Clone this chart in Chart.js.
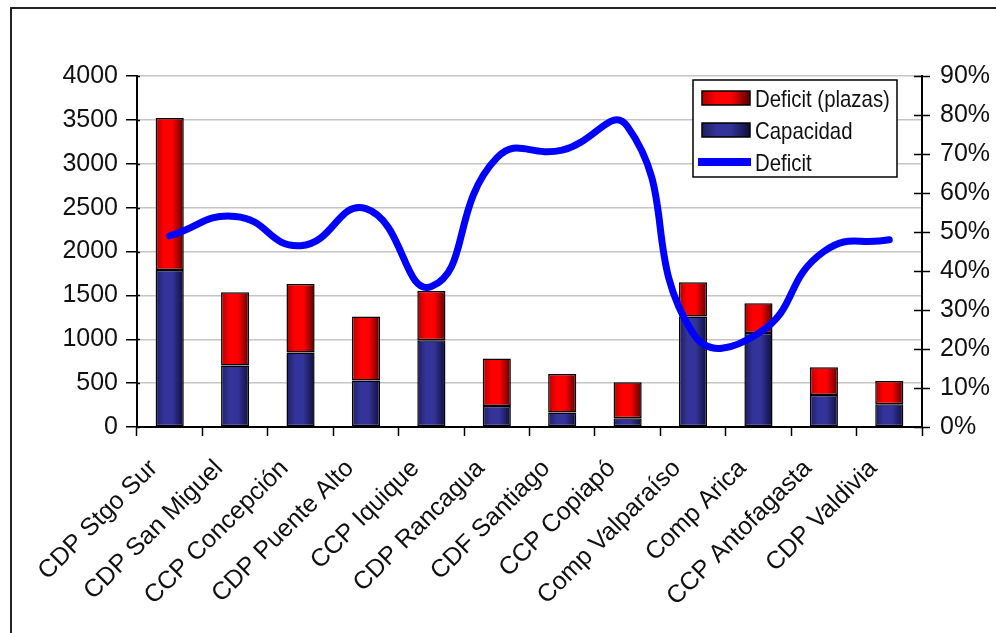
<!DOCTYPE html>
<html>
<head>
<meta charset="utf-8">
<script src="https://cdn.jsdelivr.net/npm/chart.js@4/dist/chart.umd.min.js"></script>
<style>
  html, body { margin: 0; padding: 0; background: #fff; }
  #wrap { width: 996px; height: 633px; }
</style>
</head>
<body>
<div id="wrap"><canvas id="c" width="996" height="633"></canvas></div>
<script>
// Establishments (categories)
const categories = [
  'CDP Stgo Sur', 'CDP San Miguel', 'CCP Concepción', 'CDP Puente Alto',
  'CCP Iquique', 'CDP Rancagua', 'CDF Santiago', 'CCP Copiapó',
  'Comp Valparaíso', 'Comp Arica', 'CCP Antofagasta', 'CDP Valdivia'
];
// Capacity (places)
const capacidad = [1790, 700, 850, 530, 990, 240, 165, 100, 1260, 1070, 365, 260];
// Missing places, stacked on top of capacity
const deficitPlazas = [1730, 835, 780, 730, 560, 540, 440, 410, 390, 340, 315, 265];
// Deficit as a percentage (right axis)
const deficitPct = [49, 54, 46.5, 56, 36, 69, 71, 77, 24, 24, 45, 48];
// Axis ticks
const leftTicks = [0, 500, 1000, 1500, 2000, 2500, 3000, 3500, 4000];
const rightTicks = [0, 10, 20, 30, 40, 50, 60, 70, 80, 90];

const FONT = '"Liberation Sans", Arial, sans-serif';
const BAR_FRAC = 0.43;

// Horizontal shaded fill for each bar
function shadedFill(edgeL, mid, edgeR) {
  return (ctx) => {
    const chart = ctx.chart;
    const xs = chart.scales && chart.scales.x;
    if (!xs || ctx.dataIndex === undefined || !isFinite(xs.width) || xs.width <= 0) return mid;
    const cx = xs.getPixelForValue(ctx.dataIndex);
    const w = (xs.width / categories.length) * BAR_FRAC;
    const g = chart.ctx.createLinearGradient(cx - w / 2, 0, cx + w / 2, 0);
    g.addColorStop(0, edgeL);
    g.addColorStop(0.3, mid);
    g.addColorStop(0.6, mid);
    g.addColorStop(1, edgeR);
    return g;
  };
}

// Background and outer frame
const framePlugin = {
  id: 'frame',
  beforeDraw(chart) {
    const c = chart.ctx;
    c.save();
    c.fillStyle = '#fff';
    c.fillRect(0, 0, chart.width, chart.height);
    c.strokeStyle = '#222';
    c.lineWidth = 2;
    c.beginPath();
    c.moveTo(11, chart.height);
    c.lineTo(11, 8);
    c.lineTo(chart.width, 8);
    c.stroke();
    c.restore();
  }
};

// Short inner parts of the value-axis tick marks (ticks cross the axis lines)
const crossTicksPlugin = {
  id: 'crossTicks',
  afterDraw(chart) {
    const c = chart.ctx;
    const yl = chart.scales.y, yr = chart.scales.y1;
    const area = chart.chartArea;
    c.save();
    c.strokeStyle = '#000';
    c.lineWidth = 1.5;
    c.beginPath();
    yl.ticks.forEach(t => {
      const py = Math.round(yl.getPixelForValue(t.value)) + 0.5;
      c.moveTo(area.left, py);
      c.lineTo(area.left + 3, py);
    });
    yr.ticks.forEach(t => {
      const py = Math.round(yr.getPixelForValue(t.value)) + 0.5;
      c.moveTo(area.right - 8, py);
      c.lineTo(area.right, py);
    });
    c.stroke();
    c.restore();
  }
};

// Boxed legend inside the plot
const legendBoxPlugin = {
  id: 'legendBox',
  afterDraw(chart) {
    const c = chart.ctx;
    const x0 = 693, y0 = 80, w = 204, h = 97;
    c.save();
    c.fillStyle = '#fff';
    c.fillRect(x0, y0, w, h);
    c.strokeStyle = '#000';
    c.lineWidth = 1.5;
    c.strokeRect(x0, y0, w, h);

    const ds = chart.data.datasets;
    const rows = [
      { ds: ds[1], y: 98 },
      { ds: ds[0], y: 130 },
      { ds: ds[2], y: 162 }
    ];
    rows.forEach(r => {
      if (r.ds.type === 'line') {
        c.strokeStyle = '#0000ff';
        c.lineWidth = 8;
        c.beginPath();
        c.moveTo(698, r.y);
        c.lineTo(751, r.y);
        c.stroke();
      } else {
        const g = c.createLinearGradient(702, 0, 750, 0);
        const cols = r.ds.legendColors;
        g.addColorStop(0, cols[0]);
        g.addColorStop(0.3, cols[1]);
        g.addColorStop(0.6, cols[1]);
        g.addColorStop(1, cols[2]);
        c.fillStyle = g;
        c.fillRect(702, r.y - 7, 48, 14);
        c.strokeStyle = '#000';
        c.lineWidth = 1.5;
        c.strokeRect(702, r.y - 7, 48, 14);
      }
      c.save();
      c.translate(755, r.y + 9);
      c.scale(0.85, 1);
      c.fillStyle = '#111';
      c.font = '24px ' + FONT;
      c.textBaseline = 'alphabetic';
      c.fillText(r.ds.label, 0, 0);
      c.restore();
    });
    c.restore();
  }
};

const redCols = ['#b00000', '#ff0000', '#5a0000'];
const navyCols = ['#1e1e60', '#333399', '#0e0e38'];

new Chart(document.getElementById('c'), {
  type: 'bar',
  data: {
    labels: categories,
    datasets: [
      {
        type: 'bar',
        label: 'Capacidad',
        data: capacidad,
        yAxisID: 'y',
        backgroundColor: shadedFill(...navyCols),
        legendColors: navyCols,
        borderColor: '#000',
        borderWidth: 1.5,
        borderSkipped: false,
        categoryPercentage: 1,
        barPercentage: BAR_FRAC,
        order: 2
      },
      {
        type: 'bar',
        label: 'Deficit (plazas)',
        data: deficitPlazas,
        yAxisID: 'y',
        backgroundColor: shadedFill(...redCols),
        legendColors: redCols,
        borderColor: '#000',
        borderWidth: 1.5,
        borderSkipped: false,
        categoryPercentage: 1,
        barPercentage: BAR_FRAC,
        order: 2
      },
      {
        type: 'line',
        label: 'Deficit',
        data: deficitPct,
        yAxisID: 'y1',
        borderColor: '#0000ff',
        borderWidth: 7,
        borderCapStyle: 'round',
        borderJoinStyle: 'round',
        pointRadius: 0,
        tension: 0.5,
        fill: false,
        order: 0
      }
    ]
  },
  options: {
    responsive: false,
    animation: false,
    devicePixelRatio: 1,
    layout: { padding: { left: 0, right: 0, top: 76, bottom: 0 } },
    plugins: {
      legend: { display: false },
      tooltip: { enabled: false }
    },
    scales: {
      x: {
        stacked: true,
        offset: true,
        grid: {
          display: true,
          offset: true,
          drawOnChartArea: false,
          drawTicks: true,
          tickLength: 9,
          tickColor: '#000',
          tickWidth: 1.5
        },
        border: { display: true, color: '#000', width: 2 },
        ticks: {
          autoSkip: false,
          minRotation: 45,
          maxRotation: 45,
          padding: 18,
          labelOffset: -16,
          color: '#111',
          font: { family: FONT, size: 25 }
        },
        afterFit(scale) { scale.height = 206; }
      },
      y: {
        stacked: true,
        position: 'left',
        min: leftTicks[0],
        max: leftTicks[leftTicks.length - 1],
        afterBuildTicks(scale) { scale.ticks = leftTicks.map(v => ({ value: v })); },
        grid: {
          color: '#c4c4c4',
          lineWidth: 1.5,
          tickColor: '#000',
          tickLength: 11,
          tickWidth: 1.5
        },
        border: { display: true, color: '#000', width: 2 },
        ticks: {
          padding: 8,
          color: '#111',
          font: { family: FONT, size: 25 },
          callback: (v) => String(v)
        },
        afterFit(scale) { scale.width = 137; }
      },
      y1: {
        position: 'right',
        min: rightTicks[0],
        max: rightTicks[rightTicks.length - 1],
        afterBuildTicks(scale) { scale.ticks = rightTicks.map(v => ({ value: v })); },
        grid: {
          drawOnChartArea: false,
          tickColor: '#000',
          tickLength: 8,
          tickWidth: 1.5
        },
        border: { display: true, color: '#000', width: 2 },
        ticks: {
          padding: 10,
          color: '#111',
          font: { family: FONT, size: 25 },
          callback: (v) => v + '%'
        },
        afterFit(scale) { scale.width = 74; }
      }
    }
  },
  plugins: [framePlugin, crossTicksPlugin, legendBoxPlugin]
});
</script>
</body>
</html>
